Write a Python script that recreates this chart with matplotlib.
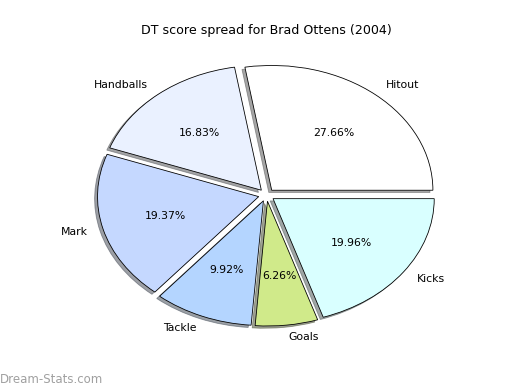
import matplotlib
matplotlib.use('Agg')
import matplotlib.pyplot as plt

labels = ['Hitout', 'Handballs', 'Mark', 'Tackle', 'Goals', 'Kicks']
shares = [27.66, 16.83, 19.37, 9.92, 6.26, 19.96]
colors = ['#ffffff', '#eaf1ff', '#c5d8ff', '#b4d5ff', '#d0ea8a', '#d9ffff']
explode = [0.05, 0.05, 0.05, 0.05, 0.05, 0.05]

fig = plt.figure(figsize=(8, 6), dpi=65)
ax = fig.add_axes([0.125, 0.1, 0.775, 0.8])
wedges, texts, autotexts = ax.pie(shares, labels=labels, colors=colors, explode=explode,
                                  autopct='%1.2f%%', shadow=True, startangle=0,
                                  wedgeprops={'edgecolor': 'black', 'linewidth': 0.9},
                                  textprops={'fontsize': 12})
ax.set_aspect('auto')
ax.set_xlim(-1.25, 1.25)
ax.set_ylim(-1.25, 1.25)
ax.set_title('DT score spread for Brad Ottens (2004)', fontsize=14, pad=6)

fig.text(0.0, 0.018, 'Dream-Stats.com', color='#a0a0a0', fontsize=13)

fig.savefig('out.png', dpi=65)
